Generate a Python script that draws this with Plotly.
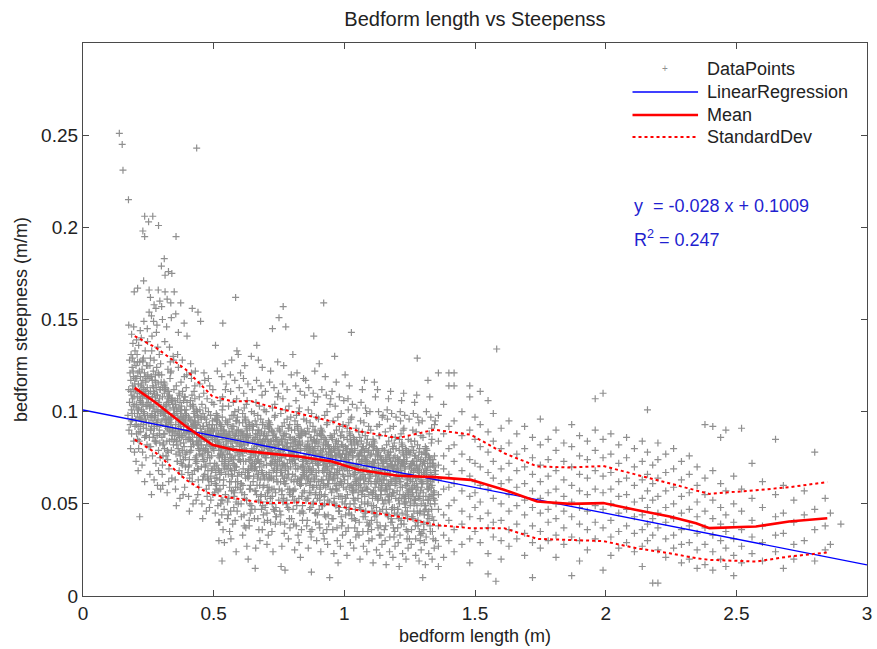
import plotly.graph_objects as go

# ---------------- data ----------------
# scatter points as (bedform length in mm, steepness in thousandths)
pts_outliers = [
    (139,251),(150,245),(153,231),(174,215),(435,243),(236,206),(267,206),(251,203),(289,201),
    (229,198),(236,195),(356,195),(311,183),(300,179),(327,176),(314,174),(340,175),(232,171),
    (196,165),(209,167),(253,166),(288,166),(314,165),(349,165),(584,162),(921,159),(294,160),
    (336,159),(374,159),(766,157),(418,156),(440,154),(750,151),(776,146),(725,145),(535,148),
    (450,149),(175,147),(1027,143),(883,141),(253,154),(279,156),(304,150),(355,153),(387,148),
    (1583,134),(262,152),(270,149),(283,147),(246,145),(320,146),(338,151),(365,143),(398,141),
    (272,158),(301,157),(258,162),(322,161),
]

pts_015_030 = [
    (172,98),(175,112),(178,105),(180,121),(181,93),(183,117),(184,131),(185,101),(186,88),(187,109),
    (188,124),(189,96),(190,114),(191,137),(192,103),(193,119),(194,84),(195,108),(196,127),(197,99),
    (198,115),(199,92),(199,133),(186,142),(178,128),(182,80),(176,90),(194,146),(197,78),(189,107),
    (183,111),(188,99),(192,122),(196,104),(199,118),(185,95),(190,129),(195,112),
    (201,112),(202,96),(203,125),(204,104),(205,88),(206,118),(207,131),(208,99),(209,108),(210,121),
    (211,92),(212,115),(213,136),(214,102),(215,84),(216,111),(217,127),(218,97),(219,106),(220,119),
    (221,89),(222,114),(223,140),(224,101),(225,95),(226,123),(227,108),(228,78),(229,117),(230,104),
    (231,129),(232,93),(233,112),(234,99),(235,121),(236,86),(237,109),(238,133),(239,96),(240,116),
    (241,103),(242,91),(243,125),(244,107),(245,82),(246,113),(247,98),(248,120),(249,105),(203,73),
    (211,68),(219,144),(226,71),(233,149),(241,75),(247,138),(207,102),(215,97),(223,110),(231,100),
    (239,87),(245,118),(213,80),(236,62),(217,43),(229,127),(205,139),(221,105),(243,94),(209,85),
    (251,107),(252,94),(253,118),(254,86),(255,102),(256,125),(257,97),(258,111),(259,81),(260,104),
    (261,119),(262,92),(263,133),(264,99),(265,108),(266,76),(267,114),(268,95),(269,122),(270,88),
    (271,103),(272,128),(273,91),(274,110),(275,84),(276,117),(277,98),(278,106),(279,72),(280,113),
    (281,94),(282,124),(283,101),(284,87),(285,109),(286,135),(287,96),(288,115),(289,79),(290,104),
    (291,120),(292,90),(293,107),(294,83),(295,112),(296,99),(297,126),(298,93),(299,101),(256,66),
    (264,141),(272,63),(281,143),(289,68),(297,58),(260,90),(270,111),(278,84),(287,100),(295,75),
    (262,55),(285,60),(274,97),(292,131),(258,129),(268,102),(283,92),(299,116),(277,120),
]

pts_030_050 = [
    (307,98),(314,112),(321,84),(328,105),(335,121),(342,91),(349,101),(306,76),(313,115),(320,94),
    (327,108),(334,127),(341,87),(348,99),(305,113),(312,80),(319,104),(326,93),(333,118),(340,85),
    (347,102),(304,71),(311,110),(318,96),(325,123),(332,89),(339,106),(346,82),(303,100),(310,116),
    (317,92),(324,74),(331,109),(338,97),(345,130),(302,86),(309,103),(316,113),(323,79),(330,95),
    (337,107),(344,90),(301,120),(308,83),(315,99),(322,111),(329,69),(336,94),(343,104),
    (305,60),(313,138),(322,56),(331,135),(340,64),(347,128),(309,88),(318,103),(326,78),(335,96),
    (344,106),(303,66),(328,62),(316,92),(337,122),(350,85),(324,107),(311,99),
    (399,92),(398,105),(397,78),(396,98),(395,113),(394,85),(393,95),(392,70),(391,108),(390,88),
    (389,101),(388,119),(387,81),(386,93),(385,106),(384,74),(383,97),(382,87),(381,111),(380,79),
    (379,96),(378,66),(377,103),(376,90),(375,116),(374,83),(373,99),(372,76),(371,94),(370,109),
    (369,86),(368,68),(367,102),(366,91),(365,124),(364,80),(363,97),(362,107),(361,73),(360,89),
    (359,100),(358,84),(357,114),(356,77),(355,93),(354,104),(353,63),(352,88),(351,98),
    (354,58),(362,131),(371,53),(380,128),(389,59),(397,120),(359,82),(368,96),(376,72),(385,90),
    (393,99),(357,49),(383,55),(367,110),(374,101),(391,77),
    (419,88),(438,100),(407,74),(426,93),(445,108),(414,81),(433,91),(402,67),(421,103),(440,84),
    (409,96),(428,114),(447,77),(416,89),(435,101),(404,70),(423,93),(442,83),(411,106),(430,75),
    (449,91),(418,62),(437,98),(406,86),(425,111),(444,79),(413,95),(432,72),(401,90),(420,104),
    (439,82),(408,64),(427,97),(446,87),(415,118),(434,76),(403,92),(422,102),(441,69),(410,85),
    (429,95),(448,80),(417,109),(436,73),(405,89),(424,99),(443,59),(412,84),(431,93),
    (404,54),(412,126),(421,50),(430,122),(439,55),(447,115),(409,78),(418,92),(426,68),(435,86),
    (443,94),(407,46),(433,52),(415,121),(428,107),(441,63),
    (451,84),(452,96),(453,70),(454,89),(455,104),(456,77),(457,87),(458,63),(459,99),(460,80),
    (461,92),(462,110),(463,73),(464,85),(465,97),(466,66),(467,89),(468,79),(469,102),(470,71),
    (471,87),(472,58),(473,94),(474,82),(475,107),(476,75),(477,91),(478,68),(479,86),(480,100),
    (481,78),(482,60),(483,93),(484,83),(485,114),(486,72),(487,88),(488,98),(489,65),(490,81),
    (491,91),(492,76),(493,105),(494,69),(495,85),(496,95),(497,55),(498,80),(499,89),(455,50),
    (463,121),(472,46),(480,118),(489,52),(497,112),(460,74),(469,88),(477,64),(486,82),(494,90),
    (458,42),(484,48),(466,117),(491,62),(475,54),
]

pts_050_075 = [
    (507,82),(514,95),(521,68),(528,88),(535,103),(542,75),(549,86),(506,61),(513,98),(520,79),
    (527,91),(534,108),(541,71),(548,84),(505,96),(512,64),(519,88),(526,77),(533,101),(540,69),
    (547,86),(504,56),(511,93),(518,81),(525,106),(532,73),(539,90),(546,66),(503,85),(510,99),
    (517,76),(524,58),(531,92),(538,82),(545,112),(502,70),(509,87),(516,97),(523,63),(530,80),
    (537,90),(544,74),(501,104),(508,67),(515,84),(522,94),(529,52),(536,78),(543,88),
    (506,45),(514,122),(523,40),(531,119),(540,47),(548,115),(511,60),(519,83),(527,50),(536,36),
    (544,126),(532,19),(507,136),(520,30),(541,29),
    (599,81),(598,94),(597,67),(596,87),(595,101),(594,74),(593,85),(592,59),(591,97),(590,78),
    (589,90),(588,107),(587,70),(586,83),(585,95),(584,62),(583,87),(582,76),(581,100),(580,68),
    (579,85),(578,54),(577,92),(576,80),(575,105),(574,72),(573,89),(572,65),(571,84),(570,98),
    (569,75),(568,57),(567,91),(566,81),(565,111),(564,69),(563,86),(562,96),(561,62),(560,79),
    (559,89),(558,73),(557,103),(556,66),(555,83),(554,93),(553,51),(552,77),(551,87),
    (556,44),(564,120),(573,39),(581,117),(590,46),(598,113),(561,35),(569,128),(577,48),(586,24),
    (594,131),(553,42),(584,59),(566,31),(589,133),
    (619,80),(638,93),(607,66),(626,86),(645,100),(614,73),(633,84),(602,58),(621,96),(640,77),
    (609,89),(628,106),(647,69),(616,82),(635,94),(604,61),(623,86),(642,75),(611,99),(630,67),
    (649,84),(618,53),(637,91),(606,79),(625,104),(644,71),(613,88),(632,64),(601,83),(620,97),
    (639,74),(608,56),(627,90),(646,80),(615,110),(634,68),(603,85),(622,95),(641,60),(610,78),
    (629,88),(648,72),(617,102),(636,65),(605,82),(624,92),(643,49),(612,76),(631,86),
    (606,43),(614,118),(623,37),(631,115),(640,45),(648,112),(611,33),(619,125),(627,27),(636,41),
    (644,130),(603,121),(632,20),(617,38),
    (651,79),(652,92),(653,65),(654,85),(655,99),(656,72),(657,83),(658,57),(659,95),(660,76),
    (661,88),(662,105),(663,68),(664,81),(665,93),(666,60),(667,85),(668,74),(669,98),(670,66),
    (671,83),(672,52),(673,90),(674,78),(675,103),(676,70),(677,87),(678,63),(679,82),(680,96),
    (681,73),(682,55),(683,89),(684,79),(685,109),(686,67),(687,84),(688,94),(689,59),(690,77),
    (691,87),(692,71),(693,101),(694,64),(695,81),(696,91),(697,48),(698,75),(699,85),(656,42),
    (664,117),(673,36),(681,114),(690,44),(698,111),(659,15),(665,136),(677,30),(686,124),(694,40),
    (661,26),(683,47),(671,128),
    (707,78),(714,91),(721,64),(728,84),(735,98),(742,71),(749,82),(706,56),(713,94),(720,75),
    (727,87),(734,104),(741,67),(748,80),(705,92),(712,59),(719,84),(726,73),(733,97),(740,65),
    (747,82),(704,51),(711,89),(718,77),(725,102),(732,69),(739,86),(746,62),(703,81),(710,95),
    (717,72),(724,54),(731,88),(738,78),(745,108),(702,66),(709,83),(716,93),(723,58),(730,76),
    (737,86),(744,70),(701,100),(708,63),(715,80),(722,90),(729,47),(736,74),(743,84),
    (706,41),(714,116),(723,35),(731,113),(740,43),(748,110),(704,28),(718,122),(727,24),(736,39),
    (745,127),(709,33),(733,46),
]

pts_075_100 = [
    (799,77),(798,90),(797,63),(796,83),(795,97),(794,70),(793,81),(792,55),(791,93),(790,74),
    (789,86),(788,103),(787,66),(786,79),(785,91),(784,58),(783,83),(782,72),(781,96),(780,64),
    (779,81),(778,50),(777,88),(776,76),(775,101),(774,68),(773,85),(772,61),(771,80),(770,94),
    (769,71),(768,53),(767,87),(766,77),(765,107),(764,65),(763,82),(762,92),(761,57),(760,75),
    (759,85),(758,69),(757,99),(756,62),(755,79),(754,89),(753,46),(752,73),(751,83),
    (758,16),(773,14),(755,40),(764,115),(770,34),(781,112),(790,42),(797,120),(761,27),(786,31),
    (768,125),(792,37),
    (819,76),(838,89),(807,62),(826,82),(845,96),(814,69),(833,80),(802,54),(821,92),(840,73),
    (809,85),(828,102),(847,65),(816,78),(835,90),(804,57),(823,82),(842,71),(811,95),(830,63),
    (849,80),(818,49),(837,87),(806,75),(825,100),(844,67),(813,84),(832,60),(801,79),(820,93),
    (839,70),(808,52),(827,86),(846,76),(815,106),(834,64),(803,81),(822,91),(841,56),(810,74),
    (829,84),(848,68),(817,98),(836,61),(805,78),(824,88),(843,45),(812,72),(831,82),
    (806,39),(814,114),(823,33),(831,111),(840,41),(848,109),(810,25),(819,121),(827,29),(836,36),
    (844,118),(803,131),(832,21),
    (851,75),(852,88),(853,61),(854,81),(855,95),(856,68),(857,79),(858,53),(859,91),(860,72),
    (861,84),(862,101),(863,64),(864,77),(865,89),(866,56),(867,81),(868,70),(869,94),(870,62),
    (871,79),(872,48),(873,86),(874,74),(875,99),(876,66),(877,83),(878,59),(879,78),(880,92),
    (881,69),(882,51),(883,85),(884,75),(885,105),(886,63),(887,80),(888,90),(889,55),(890,73),
    (891,83),(892,67),(893,97),(894,60),(895,77),(896,87),(897,44),(898,71),(899,81),(856,38),
    (864,113),(873,32),(881,110),(890,40),(898,108),(874,13),(862,26),(887,122),(869,35),(894,30),
    (852,117),
    (907,74),(914,87),(921,60),(928,80),(935,94),(942,67),(949,78),(906,52),(913,90),(920,71),
    (927,83),(934,100),(941,63),(948,76),(905,88),(912,55),(919,80),(926,69),(933,93),(940,61),
    (947,78),(904,47),(911,85),(918,73),(925,98),(932,65),(939,82),(946,58),(903,77),(910,91),
    (917,68),(924,50),(931,84),(938,74),(945,104),(902,62),(909,79),(916,89),(923,54),(930,72),
    (937,82),(944,66),(901,96),(908,59),(915,76),(922,86),(929,43),(936,70),(943,80),
    (906,37),(914,112),(923,31),(931,109),(940,39),(948,107),(944,10),(910,24),(927,119),(936,28),
    (919,34),(904,126),
    (999,73),(998,86),(997,59),(996,79),(995,93),(994,66),(993,77),(992,51),(991,89),(990,70),
    (989,82),(988,99),(987,62),(986,75),(985,87),(984,54),(983,79),(982,68),(981,92),(980,60),
    (979,77),(978,46),(977,84),(976,72),(975,97),(974,64),(973,81),(972,57),(971,76),(970,90),
    (969,67),(968,49),(967,83),(966,73),(965,103),(964,61),(963,78),(962,88),(961,53),(960,71),
    (959,81),(958,65),(957,95),(956,58),(955,75),(954,85),(953,42),(952,69),(951,79),
    (956,36),(963,130),(973,30),(976,18),(981,108),(990,38),(998,106),(960,23),(969,116),(985,27),
    (993,33),(953,111),
]

pts_100_135 = [
    (1019,72),(1038,85),(1007,58),(1026,78),(1045,91),(1014,65),(1033,76),(1002,50),(1021,88),(1040,69),
    (1009,80),(1028,97),(1047,61),(1016,74),(1035,86),(1004,53),(1023,78),(1042,67),(1011,91),(1030,59),
    (1049,76),(1018,45),(1037,83),(1006,71),(1025,96),(1044,63),(1013,80),(1032,56),(1001,75),(1020,89),
    (1039,66),(1008,48),(1027,82),(1046,72),(1015,101),(1034,60),(1003,77),(1022,87),(1041,52),(1010,70),
    (1029,80),(1048,64),(1017,94),(1036,57),(1005,74),(1024,84),(1043,41),(1012,68),(1031,78),
    (1006,35),(1014,107),(1023,29),(1027,44),(1031,104),(1040,37),(1048,102),(1010,22),(1019,114),(1036,26),
    (1044,32),(1003,120),
    (1051,70),(1052,83),(1053,56),(1054,76),(1055,89),(1056,63),(1057,74),(1058,48),(1059,86),(1060,67),
    (1061,78),(1062,95),(1063,59),(1064,72),(1065,84),(1066,51),(1067,76),(1068,65),(1069,89),(1070,57),
    (1071,74),(1072,43),(1073,81),(1074,69),(1075,94),(1076,61),(1077,78),(1078,54),(1079,73),(1080,87),
    (1081,64),(1082,46),(1083,80),(1084,70),(1085,99),(1086,58),(1087,75),(1088,85),(1089,50),(1090,68),
    (1091,78),(1092,62),(1093,92),(1094,55),(1095,72),(1096,82),(1097,39),(1098,66),(1099,76),(1056,33),
    (1064,105),(1073,27),(1081,102),(1090,35),(1098,100),(1060,20),(1069,112),(1086,24),(1094,30),(1077,117),
    (1107,68),(1114,81),(1121,54),(1128,74),(1135,87),(1142,61),(1149,72),(1106,46),(1113,84),(1120,65),
    (1127,76),(1134,93),(1141,57),(1148,70),(1105,82),(1112,49),(1119,74),(1126,63),(1133,87),(1140,55),
    (1147,72),(1104,41),(1111,79),(1118,67),(1125,92),(1132,59),(1139,76),(1146,52),(1103,71),(1110,85),
    (1117,62),(1124,44),(1131,78),(1138,68),(1145,97),(1102,56),(1109,73),(1116,83),(1123,48),(1130,66),
    (1137,76),(1144,60),(1101,90),(1108,53),(1115,70),(1122,80),(1129,37),(1136,64),(1143,74),
    (1106,31),(1115,116),(1123,25),(1131,100),(1140,33),(1148,98),(1110,18),(1119,108),(1136,22),(1144,28),
    (1127,112),
    (1199,67),(1198,80),(1197,53),(1196,73),(1195,86),(1194,60),(1193,71),(1192,45),(1191,83),(1190,64),
    (1189,75),(1188,92),(1187,56),(1186,69),(1185,81),(1184,48),(1183,73),(1182,62),(1181,86),(1180,54),
    (1179,71),(1178,40),(1177,78),(1176,66),(1175,91),(1174,58),(1173,75),(1172,51),(1171,70),(1170,84),
    (1169,61),(1168,43),(1167,77),(1166,67),(1165,96),(1164,55),(1163,72),(1162,82),(1161,47),(1160,65),
    (1159,75),(1158,59),(1157,89),(1156,52),(1155,69),(1154,79),(1153,36),(1152,63),(1151,73),
    (1156,30),(1164,101),(1173,24),(1181,99),(1190,32),(1198,97),(1160,17),(1169,107),(1186,21),(1194,27),
    (1177,111),
    (1219,66),(1238,79),(1207,52),(1226,72),(1245,85),(1214,59),(1233,70),(1202,44),(1221,82),(1240,63),
    (1209,74),(1228,91),(1247,55),(1216,68),(1235,80),(1204,47),(1223,72),(1242,61),(1211,85),(1230,53),
    (1249,70),(1218,39),(1237,77),(1206,65),(1225,90),(1244,57),(1213,74),(1232,50),(1201,69),(1220,83),
    (1239,60),(1208,42),(1227,76),(1246,66),(1215,95),(1234,54),(1203,71),(1222,81),(1241,46),(1210,64),
    (1229,74),(1248,58),(1217,88),(1236,51),(1205,68),(1224,78),(1243,35),(1212,62),(1231,72),
    (1206,29),(1214,100),(1223,23),(1231,98),(1240,31),(1248,96),(1210,16),(1219,106),(1236,20),(1244,26),
    (1227,110),
    (1251,65),(1252,78),(1253,51),(1254,71),(1255,84),(1256,58),(1257,69),(1258,43),(1259,81),(1260,62),
    (1261,73),(1262,90),(1263,54),(1264,67),(1265,79),(1266,46),(1267,71),(1268,60),(1269,84),(1270,52),
    (1271,69),(1272,38),(1273,76),(1274,64),(1275,89),(1276,56),(1277,73),(1278,49),(1279,68),(1280,82),
    (1281,59),(1282,41),(1283,75),(1284,65),(1285,94),(1286,53),(1287,70),(1288,80),(1289,45),(1290,63),
    (1291,73),(1292,57),(1293,87),(1294,50),(1295,67),(1296,77),(1297,34),(1298,61),(1299,71),(1256,28),
    (1264,99),(1273,22),(1279,129),(1281,97),(1290,30),(1298,95),(1300,10),(1269,105),(1286,19),(1294,25),
    (1277,109),
    (1307,66),(1314,77),(1321,52),(1328,70),(1335,85),(1342,57),(1349,68),(1306,44),(1313,80),(1320,61),
    (1327,74),(1334,91),(1341,53),(1348,66),(1305,78),(1312,47),(1319,72),(1326,59),(1333,83),(1340,55),
    (1347,68),(1304,39),(1311,75),(1318,63),(1325,88),(1332,55),(1339,72),(1346,50),(1303,67),(1310,81),
    (1317,58),(1324,42),(1331,74),(1338,64),(1345,93),(1302,52),(1309,69),(1316,79),(1323,46),(1330,62),
    (1337,72),(1344,56),(1301,86),(1308,49),(1315,66),(1322,76),(1329,35),(1336,60),(1343,70),
    (1306,29),(1314,100),(1320,117),(1323,23),(1331,97),(1340,31),(1348,95),(1310,17),(1336,20),(1344,26),
    (1327,108),
]

# extra points in the densest core of the cloud
pts_core = [
    (202,118),(204,93),(207,110),(209,127),(212,101),(214,89),(216,122),(218,107),(221,96),(223,115),
    (226,104),(228,128),(231,91),(233,109),(235,98),(238,119),(240,111),(243,87),(245,103),(248,125),(230,113),(219,92),
    (251,110),(253,81),(256,103),(258,90),(261,119),(263,97),(266,108),(268,86),(270,113),(273,92),
    (275,100),(278,116),(280,83),(283,109),(285,94),(288,121),(290,105),(293,88),(295,112),(298,99),(276,106),(265,117),
    (302,95),(304,108),(306,82),(309,99),(311,114),(313,88),(316,101),(318,76),(321,105),(323,91),
    (326,97),(328,111),(331,84),(333,102),(336,93),(338,79),(341,107),(343,89),(346,98),(348,112),(329,90),(314,96),
    (352,106),(354,91),(357,84),(359,102),(361,73),(364,87),(366,95),(368,78),(371,105),(373,92),
    (376,86),(378,99),(380,71),(383,96),(385,83),(388,108),(390,94),(392,75),(395,101),(397,89),(369,88),(386,97),
    (402,85),(404,97),(406,71),(409,90),(411,103),(413,79),(416,92),(418,66),(421,94),(423,82),
    (426,88),(428,100),(430,74),(433,91),(435,83),(438,69),(440,97),(442,80),(445,86),(447,101),(419,84),(437,93),
    (452,97),(454,82),(457,76),(459,92),(461,65),(463,79),(466,87),(468,70),(471,96),(473,84),
    (476,78),(478,90),(480,63),(483,88),(485,75),(488,98),(490,86),(492,68),(495,93),(497,81),(469,80),(487,89),
    (501,79),(503,91),(505,64),(508,84),(510,96),(512,71),(515,86),(517,57),(520,88),(522,75),
    (525,81),(527,93),(529,67),(532,85),(534,76),(537,60),(539,89),(541,72),(544,80),(546,95),(518,69),(535,52),
    (552,94),(554,79),(557,71),(559,88),(561,59),(563,75),(566,84),(568,66),(571,92),(573,80),
    (576,74),(578,87),(580,56),(583,85),(585,70),(588,95),(590,83),(592,62),(595,90),(597,78),(569,68),(586,51),
    (601,77),(604,89),(606,61),(608,82),(611,94),(613,69),(615,84),(618,55),(620,86),(623,73),
    (625,79),(627,91),(630,65),(632,83),(635,74),(637,58),(639,87),(642,70),(644,78),(647,93),(621,67),(638,50),
    (652,92),(654,77),(656,69),(659,86),(661,57),(663,73),(666,82),(668,64),(670,90),(673,78),
    (675,72),(677,85),(680,54),(682,83),(684,68),(687,93),(689,81),(692,60),(694,88),(697,76),(671,66),(688,49),
    (701,75),(703,87),(705,59),(708,80),(710,92),(712,67),(715,82),(717,53),(720,84),(722,71),
    (725,77),(727,89),(729,63),(732,81),(734,72),(737,56),(739,85),(741,68),(744,76),(746,91),(720,65),(738,48),
    (752,90),(754,75),(756,67),(759,84),(761,55),(763,71),(766,80),(768,62),(770,88),(773,76),
    (775,70),(777,83),(780,52),(782,81),(784,66),(787,91),(789,79),(791,58),(794,86),(796,74),(771,64),(788,47),
    (801,73),(803,85),(805,57),(808,78),(810,90),(812,65),(815,80),(817,51),(820,82),(822,69),
    (825,75),(827,87),(829,61),(832,79),(834,70),(837,54),(839,83),(841,66),(844,74),(846,89),(821,63),(838,46),
    (852,88),(854,73),(856,65),(859,82),(861,53),(863,69),(866,78),(868,60),(870,86),(873,74),
    (875,68),(877,81),(880,50),(882,79),(884,64),(887,89),(889,77),(891,56),(894,84),(896,72),(871,62),(888,45),
    (901,71),(903,83),(905,55),(908,76),(910,88),(912,63),(915,78),(917,49),(920,80),(922,67),
    (925,73),(927,85),(929,59),(932,77),(934,68),(937,52),(939,81),(941,64),(944,72),(946,87),(921,61),(938,44),
    (952,86),(954,71),(956,63),(959,80),(961,51),(963,67),(966,76),(968,58),(970,84),(973,72),
    (975,66),(977,79),(980,48),(982,77),(984,62),(987,87),(989,75),(991,54),(994,82),(996,70),(971,60),(988,43),
    (1002,69),(1004,81),(1006,53),(1009,74),(1011,85),(1013,61),(1016,76),(1018,47),(1020,78),(1023,65),
    (1025,71),(1027,83),(1030,57),(1032,75),(1034,66),(1037,50),(1039,79),(1041,62),(1044,70),(1046,84),(1021,59),(1038,42),
    (1051,82),(1053,68),(1055,60),(1058,77),(1060,48),(1062,64),(1065,73),(1067,55),(1069,81),(1072,69),
    (1074,63),(1076,76),(1079,45),(1081,74),(1083,59),(1086,83),(1088,72),(1090,51),(1093,79),(1095,67),(1070,57),(1087,40),
    (1101,65),(1103,77),(1105,49),(1108,70),(1110,81),(1112,57),(1115,72),(1117,43),(1119,74),(1122,61),
    (1124,67),(1126,79),(1129,53),(1131,71),(1133,62),(1136,46),(1138,75),(1140,58),(1143,66),(1145,80),(1120,55),(1137,38),
    (1152,79),(1154,65),(1156,57),(1159,74),(1161,45),(1163,61),(1166,70),(1168,52),(1170,78),(1173,66),
    (1175,60),(1177,73),(1180,42),(1182,71),(1184,56),(1187,80),(1189,69),(1191,48),(1194,76),(1196,64),(1171,54),(1188,37),
    (1201,63),(1203,75),(1205,47),(1208,68),(1210,79),(1212,55),(1215,70),(1217,41),(1219,72),(1222,59),
    (1224,65),(1226,77),(1229,51),(1231,69),(1233,60),(1236,44),(1238,73),(1240,56),(1243,64),(1245,78),(1220,53),(1237,36),
    (1251,77),(1253,63),(1255,55),(1258,72),(1260,43),(1262,59),(1265,68),(1267,50),(1269,76),(1272,64),
    (1274,58),(1276,71),(1279,40),(1281,69),(1283,54),(1286,78),(1288,67),(1290,46),(1293,74),(1295,62),(1270,52),(1287,35),
    (1301,62),(1303,73),(1305,46),(1308,66),(1310,77),(1312,54),(1315,68),(1317,40),(1319,70),(1322,58),
    (1324,64),(1326,75),(1329,50),(1331,67),(1333,59),(1336,43),(1338,71),(1340,55),(1343,63),(1345,76),(1320,52),(1337,35),
]

# further points filling the lower part of the cloud (0.5 - 1.35 m)
pts_core_low = [
    (504,72),(509,58),(513,90),(516,49),(521,83),(524,66),(528,77),(531,44),(536,87),(538,63),(543,70),(545,55),(548,81),(533,97),(519,40),
    (551,69),(555,86),(558,53),(562,77),(565,46),(567,62),(572,81),(575,57),(579,71),(582,41),(587,88),(591,65),(594,50),(598,74),(577,98),
    (603,73),(605,50),(609,87),(612,60),(616,44),(619,79),(622,64),(626,52),(629,83),(633,69),(636,38),(640,58),(643,75),(646,47),(649,90),
    (651,62),(655,80),(658,47),(660,70),(664,55),(667,88),(669,42),(672,74),(676,60),(679,51),(683,77),(686,36),(690,65),(693,84),(698,54),
    (702,71),(704,45),(707,85),(711,57),(714,64),(718,40),(721,79),(724,50),(728,68),(731,58),(735,82),(738,43),(742,62),(745,73),(749,52),
    (751,58),(753,78),(757,44),(760,67),(762,85),(765,51),(769,72),(772,39),(776,61),(779,81),(783,48),(785,69),(790,56),(793,77),(798,42),
    (802,66),(804,47),(807,83),(811,58),(813,71),(816,38),(819,62),(823,76),(826,53),(830,45),(833,87),(836,64),(840,49),(843,70),(847,57),
    (853,52),(855,73),(858,41),(860,63),(864,80),(867,47),(869,67),(872,56),(876,36),(879,72),(883,59),(886,84),(890,45),(893,65),(897,53),
    (902,68),(904,39),(907,58),(911,74),(914,49),(918,63),(920,82),(924,44),(926,55),(930,70),(933,36),(936,61),(940,77),(943,51),(947,66),
    (951,56),(953,76),(957,42),(960,64),(962,50),(965,81),(969,58),(972,37),(974,69),(978,54),(981,46),(985,73),(990,61),(993,40),(997,65),
    (1001,63),(1005,44),(1008,77),(1012,55),(1015,37),(1019,68),(1022,50),(1026,60),(1029,42),(1033,71),(1035,53),(1040,80),(1042,47),(1045,58),(1049,35),
    (1052,53),(1054,70),(1057,40),(1061,61),(1063,47),(1066,79),(1068,57),(1071,35),(1075,66),(1078,50),(1080,43),(1084,73),(1089,58),(1092,38),(1097,64),
    (1102,61),(1104,36),(1107,56),(1111,72),(1114,45),(1118,59),(1121,77),(1125,40),(1128,52),(1132,68),(1134,33),(1139,55),(1142,74),(1146,47),(1149,63),
    (1151,50),(1155,68),(1158,38),(1162,58),(1165,44),(1167,76),(1172,54),(1174,32),(1178,63),(1181,47),(1183,40),(1186,70),(1190,56),(1193,35),(1197,61),
    (1202,57),(1204,37),(1207,73),(1211,50),(1213,33),(1216,62),(1221,45),(1225,55),(1228,39),(1232,66),(1234,48),(1239,75),(1242,42),(1246,53),(1249,31),
    (1252,49),(1254,66),(1257,36),(1261,56),(1263,42),(1266,73),(1271,52),(1273,31),(1277,61),(1280,45),(1282,38),(1285,68),(1289,54),(1292,33),(1296,59),
    (1302,56),(1304,36),(1307,72),(1311,49),(1313,32),(1316,61),(1319,44),(1325,54),(1328,38),(1332,65),(1334,47),(1339,74),(1342,41),(1346,52),(1349,30),
]

# sparse region beyond 1.35 m: column positions (m) and steepness values (thousandths)
sparse_x = [1.36, 1.38, 1.40, 1.42, 1.45, 1.48, 1.50, 1.52, 1.55, 1.57, 1.58, 1.60, 1.63, 1.66,
            1.69, 1.72, 1.75, 1.78, 1.81, 1.84, 1.87, 1.90, 1.93, 1.96, 1.99, 2.02, 2.05, 2.08,
            2.11, 2.14, 2.16, 2.18, 2.20, 2.23, 2.26, 2.29, 2.32, 2.35, 2.38, 2.41, 2.44, 2.46,
            2.49, 2.52, 2.56, 2.60, 2.65, 2.68, 2.72, 2.76, 2.80, 2.84, 2.86, 2.90]
sparse_y = [
    [121, 98, 84, 71, 63, 55, 47, 38, 27, 16],
    [104, 88, 76, 69, 58, 44, 33, 21],
    [121, 114, 92, 80, 66, 59, 49, 41, 30],
    [121, 114, 95, 82, 73, 61, 52, 36, 24],
    [100, 87, 77, 68, 57, 46, 39, 28],
    [114, 108, 90, 74, 65, 54, 43, 31, 18],
    [97, 85, 72, 62, 56, 48, 35],
    [111, 93, 81, 70, 60, 51, 42, 29],
    [106, 89, 78, 67, 58, 45, 37, 23, 12],
    [99, 84, 73, 64, 53, 40, 32],
    [8],
    [91, 80, 69, 61, 50, 41, 30, 20],
    [95, 83, 72, 63, 55, 46, 36, 27],
    [88, 77, 68, 59, 49, 39, 31],
    [92, 80, 70, 61, 52, 44, 34, 22],
    [86, 75, 66, 57, 48, 38, 29, 10],
    [96, 82, 71, 62, 53, 45, 35, 26],
    [85, 74, 65, 56, 47, 40, 30],
    [90, 79, 68, 58, 50, 42, 33, 21],
    [83, 73, 63, 54, 46, 37, 28],
    [93, 81, 70, 60, 51, 43, 32, 11],
    [87, 76, 66, 57, 48, 39, 30, 19],
    [84, 74, 64, 55, 46, 36, 25],
    [107, 90, 79, 68, 58, 49, 40, 31],
    [110, 85, 75, 65, 56, 47, 37, 14],
    [88, 77, 67, 58, 50, 41, 32, 22],
    [82, 72, 62, 54, 45, 35, 26],
    [86, 75, 64, 55, 47, 38, 29],
    [80, 70, 60, 51, 43, 34, 24],
    [84, 73, 63, 53, 44, 36, 27, 16],
    [101, 78, 66, 57, 48, 39, 30],
    [71, 61, 52, 42, 33, 7],
    [83, 74, 64, 54, 45, 37, 25, 7],
    [77, 67, 57, 48, 40, 31, 21],
    [80, 69, 59, 50, 42, 33, 26],
    [73, 63, 54, 45, 36, 28, 18],
    [76, 66, 56, 47, 38, 29, 20],
    [70, 60, 51, 43, 34, 25, 15],
    [93, 64, 55, 46, 37, 28, 17],
    [92, 68, 52, 42, 33, 24, 14],
    [86, 61, 48, 39, 30, 20],
    [90, 57, 44, 35, 26, 16],
    [65, 50, 40, 31, 22, 11],
    [91, 58, 46, 36, 27, 18],
    [72, 53, 41, 32, 23],
    [62, 48, 38, 29, 19],
    [85, 55, 43, 33, 24],
    [60, 45, 34, 15],
    [52, 40, 28, 20],
    [57, 44, 30],
    [78, 47, 36, 19],
    [53, 38, 25],
    [45, 28],
    [39],
]

# linear regression result
fit_slope = -0.028
fit_intercept = 0.1009
fit_r2 = 0.247
fit_x_range = [0.0, 3.0]

# binned mean and +/- one standard deviation
stat_x = [0.198, 0.28, 0.394, 0.47, 0.495, 0.57, 0.646, 0.698, 0.825, 0.952, 1.053, 1.205, 1.345,
          1.484, 1.611, 1.738, 1.864, 1.991, 2.118, 2.245, 2.346, 2.397, 2.575, 2.702, 2.848]
mean_y = [0.1129, 0.1047, 0.0920, 0.0846, 0.0820, 0.0795, 0.0782, 0.0775, 0.0757, 0.0730, 0.0685,
          0.0652, 0.0645, 0.0630, 0.0576, 0.0513, 0.0500, 0.0504, 0.0467, 0.0431, 0.0395, 0.0368,
          0.0377, 0.0404, 0.0422]
sd_upper_y = [0.1410, 0.1346, 0.1228, 0.1120, 0.1083, 0.1056, 0.1056, 0.1035, 0.0993, 0.0947, 0.0895,
              0.0857, 0.0902, 0.0875, 0.0775, 0.0703, 0.0697, 0.0705, 0.0658, 0.0612, 0.0575, 0.0554,
              0.0574, 0.0590, 0.0618]
sd_lower_y = [0.0848, 0.0775, 0.0630, 0.0565, 0.0549, 0.0531, 0.0515, 0.0504, 0.0507, 0.0495, 0.0465,
              0.0431, 0.0386, 0.0368, 0.0368, 0.0310, 0.0304, 0.0298, 0.0259, 0.0232, 0.0205, 0.0196,
              0.0187, 0.0214, 0.0236]

x_ticks = [0, 0.5, 1, 1.5, 2, 2.5, 3]
x_tick_labels = ["0", "0.5", "1", "1.5", "2", "2.5", "3"]
y_ticks = [0, 0.05, 0.1, 0.15, 0.2, 0.25]
y_tick_labels = ["0", "0.05", "0.1", "0.15", "0.2", "0.25"]

legend_labels = ["DataPoints", "LinearRegression", "Mean", "StandardDev"]

# ---------------- build ----------------
all_pts = (pts_outliers + pts_015_030 + pts_030_050 + pts_050_075 + pts_075_100 + pts_100_135
           + pts_core + pts_core_low)
px = [p[0] / 1000.0 for p in all_pts]
py = [p[1] / 1000.0 for p in all_pts]
for cx, col in zip(sparse_x, sparse_y):
    for v in col:
        px.append(cx)
        py.append(v / 1000.0)

fit_y = [fit_slope * x + fit_intercept for x in fit_x_range]

FONT = "Liberation Sans, Arial, Helvetica, sans-serif"
AX = "#4a4a4a"
TXT = "#222222"
PT_COLOR = "#8f8f8f"
BLUE = "#0000ff"
RED = "#ff0000"

fig = go.Figure()
fig.add_trace(go.Scatter(
    x=px, y=py, mode="markers", name=legend_labels[0],
    marker=dict(symbol="cross-thin", size=5, line=dict(width=1.2, color=PT_COLOR)),
))
fig.add_trace(go.Scatter(
    x=fit_x_range, y=fit_y, mode="lines", name=legend_labels[1],
    line=dict(color=BLUE, width=1.3),
))
fig.add_trace(go.Scatter(
    x=stat_x, y=mean_y, mode="lines", name=legend_labels[2],
    line=dict(color=RED, width=2.6),
))
fig.add_trace(go.Scatter(
    x=stat_x, y=sd_upper_y, mode="lines", name=legend_labels[3],
    line=dict(color=RED, width=2, dash="dot"),
))
fig.add_trace(go.Scatter(
    x=stat_x, y=sd_lower_y, mode="lines", name=legend_labels[3],
    line=dict(color=RED, width=2, dash="dot"),
))

# ---- legend drawn MATLAB-style (long line samples, tight rows) ----
leg_x_line0, leg_x_line1, leg_x_text = 0.7009, 0.7845, 0.7934
leg_rows = [0.9530, 0.9114, 0.8698, 0.8300]
fig.add_annotation(xref="paper", yref="paper", x=(leg_x_line0 + leg_x_line1) / 2, y=leg_rows[0],
                   text="+", showarrow=False, xanchor="center", yanchor="middle",
                   font=dict(family=FONT, size=10, color=PT_COLOR))
leg_styles = [None, dict(color=BLUE, width=1.3), dict(color=RED, width=2.6),
              dict(color=RED, width=2, dash="dot")]
for row_y, style in zip(leg_rows[1:], leg_styles[1:]):
    fig.add_shape(type="line", xref="paper", yref="paper", x0=leg_x_line0, x1=leg_x_line1,
                  y0=row_y, y1=row_y, line=style)
for row_y, lab in zip(leg_rows, legend_labels):
    fig.add_annotation(xref="paper", yref="paper", x=leg_x_text, y=row_y, text=lab,
                       showarrow=False, xanchor="left", yanchor="middle",
                       font=dict(family=FONT, size=18, color=TXT))

# ---- regression equation ----
fig.add_annotation(
    xref="paper", yref="paper", x=0.700, y=0.705, xanchor="left", yanchor="middle",
    text=f"y\u00a0 = {fit_slope:.3f} x + {fit_intercept:.4f}", showarrow=False,
    font=dict(family=FONT, size=18, color="#1f1fd0"),
)
fig.add_annotation(
    xref="paper", yref="paper", x=0.700, y=0.647, xanchor="left", yanchor="middle",
    text=f"R<sup>2</sup> = {fit_r2:.3f}", showarrow=False,
    font=dict(family=FONT, size=18, color="#1f1fd0"),
)

fig.update_layout(
    width=877, height=649,
    margin=dict(l=83, r=5, t=43, b=53),
    paper_bgcolor="white", plot_bgcolor="white",
    font=dict(family=FONT, size=18, color=TXT),
    title=dict(text="Bedform length vs Steepenss", x=0.5, xref="paper", xanchor="center",
               y=1 - 19 / 649, yref="container", yanchor="middle",
               font=dict(family=FONT, size=20, color=TXT)),
    showlegend=False,
)
fig.update_xaxes(
    range=[0, 3], tickvals=x_ticks, ticktext=x_tick_labels, ticks="inside", ticklen=6,
    tickcolor=AX, showline=True, linecolor=AX, linewidth=1.2, mirror="ticks",
    showgrid=False, zeroline=False, ticklabeloverflow="allow",
    tickfont=dict(family=FONT, size=19, color=TXT),
    title=dict(text="bedform length (m)", font=dict(family=FONT, size=18, color=TXT), standoff=6),
)
fig.update_yaxes(
    range=[0, 0.3], tickvals=y_ticks, ticktext=y_tick_labels, ticks="inside", ticklen=6,
    tickcolor=AX, showline=True, linecolor=AX, linewidth=1.2, mirror="ticks",
    showgrid=False, zeroline=False,
    tickfont=dict(family=FONT, size=19, color=TXT),
    title=dict(text="bedform steepness (m/m)", font=dict(family=FONT, size=18, color=TXT), standoff=8),
)

fig.write_html("out.html")
